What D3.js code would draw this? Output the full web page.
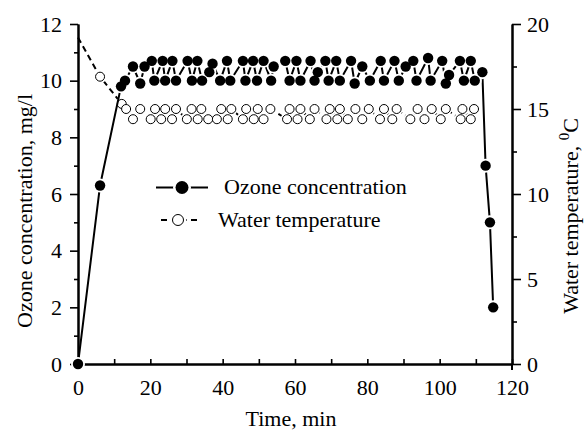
<!DOCTYPE html>
<html>
<head>
<meta charset="utf-8">
<script src="https://cdn.jsdelivr.net/npm/d3@7"></script>
<style>
body { margin: 0; background: #fff; }
text { font-family: "Liberation Serif", "Times New Roman", serif; fill: #000; }
</style>
</head>
<body>
<script>
// ozone concentration, mg/l (left axis)
var ozoneTime = [0, 6.1, 11.9, 13.0, 15.2, 17.2, 18.4, 20.4, 21.1, 23.4, 24.1, 26.1, 27.1, 30.3, 31.5, 33.0, 34.3,
    36.3, 37.2, 39.3, 41.2, 42.1, 45.6, 46.3, 48.4, 49.5, 51.3, 53.4, 54.1, 57.3, 58.5, 60.4, 61.5, 64.3, 65.4,
    66.3, 68.4, 69.3, 71.4, 72.4, 75.5, 76.5, 78.6, 80.7, 83.7, 84.6, 87.5, 88.7, 90.6, 92.7, 93.6, 96.8, 97.5,
    100.7, 101.7, 102.6, 105.6, 106.7, 108.6, 109.7, 111.8, 112.7, 113.9, 114.8];
var ozoneConc = [0, 6.3, 9.8, 10.0, 10.5, 9.9, 10.5, 10.7, 10.0, 10.7, 10.0, 10.7, 10.0, 10.7, 10.0, 10.7, 10.0,
    10.3, 10.6, 10.0, 10.7, 10.0, 10.7, 10.0, 10.7, 10.0, 10.7, 10.0, 10.5, 10.7, 10.0, 10.7, 10.0, 10.7, 10.0,
    10.3, 10.7, 10.0, 10.7, 10.0, 10.7, 9.9, 10.5, 10.0, 10.7, 10.0, 10.7, 10.0, 10.5, 10.7, 10.0, 10.8, 10.0,
    10.7, 9.9, 10.2, 10.7, 10.0, 10.7, 10.0, 10.3, 7.0, 5.0, 2.0];

// water temperature, C (right axis)
var waterTime = [0, 6.1, 12.1, 13.3, 15.2, 17.2, 20.1, 21.3, 23.0, 24.1, 26.0, 27.1, 30.1, 31.4, 33.1, 34.1, 36.0,
    38.4, 39.6, 41.4, 42.4, 45.6, 46.5, 48.6, 49.7, 51.3, 53.2, 57.8, 58.5, 60.7, 61.5, 64.1, 65.4, 68.7, 69.6,
    71.7, 72.4, 74.6, 76.7, 78.6, 80.4, 83.5, 84.6, 86.9, 88.1, 91.9, 93.9, 95.8, 97.8, 100.3, 101.7, 105.8,
    106.3, 108.6, 109.5];
var waterTemp = [19.2, 16.9, 15.3, 15.0, 14.4, 15.0, 14.4, 15.0, 14.4, 15.0, 14.4, 15.0, 14.4, 15.0, 14.4, 15.0, 14.4,
    14.4, 15.0, 14.4, 15.0, 14.4, 15.0, 14.4, 15.0, 14.4, 15.0, 14.4, 15.0, 14.4, 15.0, 14.4, 15.0, 14.4, 15.0,
    14.4, 15.0, 14.4, 15.0, 14.4, 15.0, 14.4, 15.0, 14.4, 15.0, 14.4, 15.0, 14.4, 15.0, 14.4, 15.0, 14.4,
    15.0, 14.4, 15.0];

var xMajor = [0, 20, 40, 60, 80, 100, 120];
var xMinor = [10, 30, 50, 70, 90, 110];
var yLeftMajor = [0, 2, 4, 6, 8, 10, 12];
var yLeftMinor = [1, 3, 5, 7, 9, 11];
var yRightMajor = [0, 5, 10, 15, 20];
var yRightMinor = [2.5, 7.5, 12.5, 17.5];

var w = 584, h = 432;
var plotL = 78, plotR = 512, plotT = 24, plotB = 364;

var svg = d3.select("body")
            .append("svg")
            .attr("width", w)
            .attr("height", h);

var x = d3.scaleLinear().domain([0, 120]).range([plotL, plotR]);
var yL = d3.scaleLinear().domain([0, 12]).range([plotB, plotT]);
var yR = d3.scaleLinear().domain([0, 20]).range([plotB, plotT]);

function styleAxis(g) {
    g.selectAll("path").attr("stroke-width", 2);
    g.selectAll("line").attr("stroke-width", 1.6);
    g.selectAll("text").attr("font-size", "22px").attr("font-family", "Liberation Serif");
}

// bottom axis, ticks point inward
svg.append("g")
    .attr("transform", "translate(0," + plotB + ")")
    .call(d3.axisBottom(x).tickValues(xMajor).tickSize(-5).tickSizeOuter(0).tickPadding(15).tickFormat(d3.format("d")))
    .call(styleAxis);
svg.append("g")
    .attr("transform", "translate(0," + plotB + ")")
    .call(d3.axisBottom(x).tickValues(xMinor).tickSize(-5).tickSizeOuter(0).tickFormat(""))
    .call(styleAxis);

// left axis
svg.append("g")
    .attr("transform", "translate(" + plotL + ",0)")
    .call(d3.axisLeft(yL).tickValues(yLeftMajor).tickSize(8).tickSizeOuter(0).tickPadding(8))
    .call(styleAxis);
svg.append("g")
    .attr("transform", "translate(" + plotL + ",0)")
    .call(d3.axisLeft(yL).tickValues(yLeftMinor).tickSize(4).tickSizeOuter(0).tickFormat(""))
    .call(styleAxis);

// right axis
svg.append("g")
    .attr("transform", "translate(" + plotR + ",0)")
    .call(d3.axisRight(yR).tickValues(yRightMajor).tickSize(9).tickSizeOuter(0).tickPadding(6))
    .call(styleAxis);
svg.append("g")
    .attr("transform", "translate(" + plotR + ",0)")
    .call(d3.axisRight(yR).tickValues(yRightMinor).tickSize(5).tickSizeOuter(0).tickFormat(""))
    .call(styleAxis);
svg.append("line")
    .attr("x1", plotR).attr("x2", plotR)
    .attr("y1", plotB).attr("y2", plotB + 6)
    .attr("stroke", "black").attr("stroke-width", 2);

// axis titles
svg.append("text")
    .attr("x", 291).attr("y", 426)
    .attr("text-anchor", "middle")
    .attr("font-size", "22px")
    .text("Time, min");

svg.append("text")
    .attr("transform", "translate(32,211) rotate(-90)")
    .attr("text-anchor", "middle")
    .attr("font-size", "22px")
    .text("Ozone concentration, mg/l");

var rt = svg.append("text")
    .attr("transform", "translate(578,216) rotate(-90)")
    .attr("text-anchor", "middle")
    .attr("font-size", "22px");
rt.append("tspan").text("Water temperature, ");
rt.append("tspan").attr("font-size", "15px").attr("dy", "-9").text("0");
rt.append("tspan").attr("dy", "9").text("C");

var ozone = ozoneTime.map(function(t, i) { return { t: t, v: ozoneConc[i] }; });
var water = waterTime.map(function(t, i) { return { t: t, v: waterTemp[i] }; });

// water temperature: dashed line, open circles
svg.append("path")
    .datum(water)
    .attr("fill", "none")
    .attr("stroke", "black")
    .attr("stroke-width", 2)
    .attr("stroke-dasharray", "6,4")
    .attr("d", d3.line().x(function(d) { return x(d.t); }).y(function(d) { return yR(d.v); }));

var waterPts = water.filter(function(d, i) { return i > 0; });
svg.selectAll("circle.wh")
    .data(waterPts)
    .enter()
    .append("circle")
    .attr("class", "wh")
    .attr("cx", function(d) { return x(d.t); })
    .attr("cy", function(d) { return yR(d.v); })
    .attr("r", 6.5)
    .attr("fill", "white");
svg.selectAll("circle.wm")
    .data(waterPts)
    .enter()
    .append("circle")
    .attr("class", "wm")
    .attr("cx", function(d) { return x(d.t); })
    .attr("cy", function(d) { return yR(d.v); })
    .attr("r", 4.5)
    .attr("fill", "white")
    .attr("stroke", "black")
    .attr("stroke-width", 1);

// ozone: solid line, filled circles
svg.append("path")
    .datum(ozone)
    .attr("fill", "none")
    .attr("stroke", "black")
    .attr("stroke-width", 2)
    .attr("d", d3.line().x(function(d) { return x(d.t); }).y(function(d) { return yL(d.v); }));

svg.selectAll("circle.oh")
    .data(ozone)
    .enter()
    .append("circle")
    .attr("class", "oh")
    .attr("cx", function(d) { return x(d.t); })
    .attr("cy", function(d) { return yL(d.v); })
    .attr("r", 7)
    .attr("fill", "white");
svg.selectAll("circle.om")
    .data(ozone)
    .enter()
    .append("circle")
    .attr("class", "om")
    .attr("cx", function(d) { return x(d.t); })
    .attr("cy", function(d) { return yL(d.v); })
    .attr("r", 5.2)
    .attr("fill", "black");

// legend
var lg = svg.append("g");
lg.append("line")
    .attr("x1", 156).attr("x2", 208).attr("y1", 187.5).attr("y2", 187.5)
    .attr("stroke", "black").attr("stroke-width", 2);
lg.append("circle").attr("cx", 182).attr("cy", 187.5).attr("r", 9).attr("fill", "white");
lg.append("circle").attr("cx", 182).attr("cy", 187.5).attr("r", 6.5).attr("fill", "black");
lg.append("text").attr("x", 224).attr("y", 194).attr("font-size", "22px").text("Ozone concentration");

lg.append("line")
    .attr("x1", 161).attr("x2", 197).attr("y1", 220).attr("y2", 220)
    .attr("stroke", "black").attr("stroke-width", 2)
    .attr("stroke-dasharray", "6,4");
lg.append("circle").attr("cx", 178).attr("cy", 220).attr("r", 8.5).attr("fill", "white");
lg.append("circle").attr("cx", 178).attr("cy", 220).attr("r", 5.5)
    .attr("fill", "white").attr("stroke", "black").attr("stroke-width", 1);
lg.append("text").attr("x", 218).attr("y", 227).attr("font-size", "22px").text("Water temperature");
</script>
</body>
</html>
